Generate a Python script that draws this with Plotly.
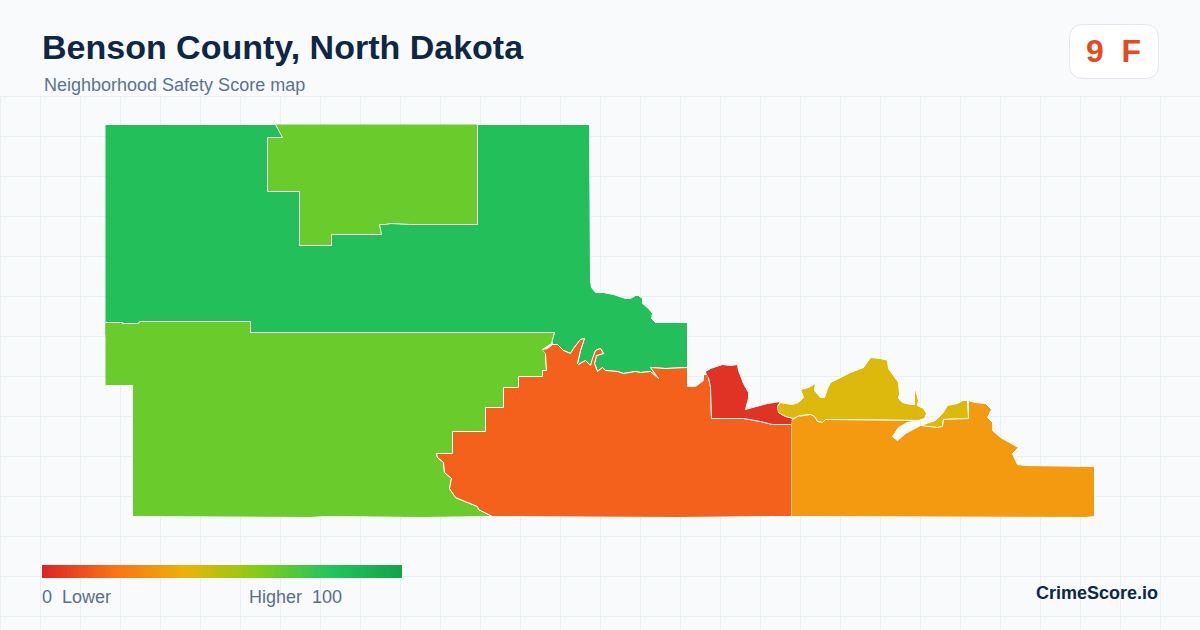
import plotly.graph_objects as go

# picture is laid out in pixels, axes run pixel-centre to pixel-centre so 1px lines stay crisp
WIDTH = 1200
HEIGHT = 630

BG = "#f8fafc"
GRID = "#e8f0f3"
FONT = "Liberation Sans"

north_x = [105, 589, 590, 591, 595, 603, 613, 625, 630, 635, 638, 642, 642, 648, 652, 651, 655, 687, 687,
           665, 650, 658, 650, 640, 635, 628, 623, 617, 605, 602, 597, 594, 596, 603, 600, 595, 592, 590, 585,
           578, 577, 580, 584, 580, 573, 570, 563, 557, 552, 550, 105]
north_y = [124, 124, 280, 287, 292, 292, 294, 298, 298, 295, 295, 298, 303, 308, 313, 318, 322, 322, 367,
           368, 367, 378, 371, 372, 371, 372, 373, 371, 370, 367, 371, 363, 355, 353, 348, 350, 358, 365, 360,
           364, 363, 350, 338, 339, 348, 353, 350, 344, 344, 335, 335]

enclave_x = [275, 282, 267, 267, 299, 299, 331, 331, 381, 379, 385, 390, 410, 477, 477]
enclave_y = [124, 137, 137, 191, 191, 245, 245, 234, 234, 224, 224, 223, 224, 224, 124]

west_x = [105, 122, 122, 138, 139, 250, 250, 554, 551, 542, 545, 546, 542, 542, 518, 518, 503, 503, 485,
          485, 452, 452, 436, 437, 443, 444, 451, 449, 455, 467, 477, 478, 492, 421, 325, 310, 132, 132, 105]
west_y = [322, 322, 323, 323, 321, 321, 332, 332, 343, 349, 353, 370, 370, 376, 376, 387, 387, 407, 407,
          431, 431, 453, 453, 457, 462, 472, 478, 488, 497, 502, 506, 509, 516, 517, 516, 517, 516, 385, 385]

central_x = [542, 547, 552, 557, 563, 570, 573, 580, 584, 580, 577, 578, 585, 590, 592, 595, 600, 603, 596, 594,
             597, 602, 605, 617, 623, 628, 635, 640, 650, 658, 650, 665, 687, 687, 695, 703, 703, 707, 708, 710, 711,
             743, 760, 772, 791, 791, 775, 675, 515, 492, 478, 477, 467, 455, 449, 451, 444, 443, 437, 436, 452, 452,
             485, 485, 503, 503, 518, 518, 542, 542, 546, 545]
central_y = [349, 348, 344, 344, 350, 353, 348, 339, 338, 350, 363, 364, 360, 365, 358, 350, 348, 353, 355, 363,
             371, 367, 370, 371, 373, 372, 371, 372, 371, 378, 367, 368, 367, 386, 386, 380, 374, 374, 377, 387, 418,
             418, 421, 424, 424, 516, 516, 517, 516, 516, 509, 506, 502, 497, 488, 478, 472, 462, 457, 453, 453, 431,
             431, 407, 407, 387, 387, 376, 376, 370, 370, 353]

tract_red_x = [705, 710, 722, 730, 737, 738, 743, 748, 748, 745, 752, 767, 780, 777, 778, 785, 793, 791, 772, 760,
               743, 711, 710, 708]
tract_red_y = [371, 368, 364, 365, 364, 370, 383, 392, 398, 409, 407, 403, 401, 406, 412, 416, 418, 424, 424, 421,
               418, 418, 387, 377]

lake_x = [777, 780, 785, 792, 798, 803, 800, 808, 815, 814, 820, 824, 827, 830, 850, 863, 870, 880, 892, 887, 888,
          898, 899, 898, 902, 910, 914, 914, 914, 916, 918, 917, 923, 926, 924, 918, 825, 822, 817, 814, 810, 800,
          793, 785, 778]
lake_y = [406, 402, 403, 404, 402, 397, 389, 387, 383, 390, 397, 397, 388, 382, 372, 367, 357, 358, 361, 360, 368,
          382, 393, 398, 402, 404, 404, 397, 385, 393, 400, 405, 408, 413, 418, 420, 419, 422, 421, 416, 414, 415,
          418, 416, 412]

lake2_x = [920, 935, 942, 947, 957, 962, 967, 968, 943, 942, 937]
lake2_y = [425, 420, 413, 405, 403, 400, 400, 418, 419, 426, 427]

east_x = [791, 797, 810, 814, 817, 822, 825, 918, 907, 898, 892, 897, 905, 917, 920, 937, 942, 943, 968, 968, 975,
          985, 991, 987, 992, 992, 1000, 1018, 1012, 1017, 1025, 1094, 1094, 1085, 791]
east_y = [420, 416, 414, 416, 421, 422, 419, 420, 422, 427, 436, 440, 433, 427, 425, 427, 426, 419, 418, 400, 402,
          403, 409, 417, 422, 430, 437, 447, 453, 464, 465, 466, 516, 517, 516]

areas = [
    (north_x, north_y, "#22bf5b"),
    (enclave_x, enclave_y, "#6acb2d"),
    (west_x, west_y, "#6acb2d"),
    (central_x, central_y, "#f4611c"),
    (tract_red_x, tract_red_y, "#e03326"),
    (lake_x, lake_y, "#dcb90c"),
    (lake2_x, lake2_y, "#dcb90c"),
    (east_x, east_y, "#f39a10"),
]

# legend gradient, score 0 to 100
legend_scores = list(range(0, 101))
legend_stops = [
    [0.0, "#dc2626"],
    [0.2, "#f97316"],
    [0.4, "#eab308"],
    [0.6, "#84cc16"],
    [0.8, "#22c55e"],
    [1.0, "#16a34a"],
]

fig = go.Figure()

# background grid, only below the header
grid_path = ""
for gx in range(0, WIDTH + 1, 40):
    grid_path += "M %d,96 L %d,%d " % (gx, gx, HEIGHT)
for gy in range(96, HEIGHT, 40):
    grid_path += "M 0,%d L %d,%d " % (gy, WIDTH, gy)
fig.add_shape(type="path", path=grid_path, line=dict(color=GRID, width=1), layer="below")

for xs, ys, color in areas:
    fig.add_trace(go.Scatter(x=xs, y=ys, mode="lines", fill="toself", fillcolor=color,
                             line=dict(color="white", width=1), hoverinfo="skip", showlegend=False))

# legend bar, x0/dx put the scores onto the 42-402 px strip
bar_dx = 360 / len(legend_scores)
fig.add_trace(go.Heatmap(z=[legend_scores], x0=41.5 + bar_dx / 2, dx=bar_dx, y0=571, dy=13,
                         colorscale=legend_stops, zmin=0, zmax=100, showscale=False, hoverinfo="skip"))

fig.add_shape(type="path", path="M 1083,24 L 1144,24 Q 1158,24 1158,38 L 1158,64 Q 1158,78 1144,78 "
                                "L 1083,78 Q 1069,78 1069,64 L 1069,38 Q 1069,24 1083,24 Z",
              fillcolor="#ffffff", line=dict(color="#e2e8f0", width=1))

texts = [
    (41, 46, "Benson County, North Dakota", 34, "#0f2744", True, "left", -2),
    (43, 84, "Neighborhood Safety Score map", 18, "#5b7390", False, "left", -2),
    (1112.5, 50, "9  F", 32, "#e64a22", True, "center", 0),
    (41, 596, "0  Lower", 18, "#5b6f8a", False, "left", -2),
    (248, 596, "Higher  100", 18, "#5b6f8a", False, "left", -2),
    (1157, 592, "CrimeScore.io", 18, "#0f2744", True, "right", 2),
]
for tx, ty, label, size, color, bold, anchor, nudge in texts:
    fig.add_annotation(x=tx, y=ty, text="<b>%s</b>" % label if bold else label, showarrow=False,
                       xanchor=anchor, yanchor="middle", xshift=nudge,
                       font=dict(family=FONT, size=size, color=color))

fig.update_layout(
    width=WIDTH, height=HEIGHT,
    margin=dict(l=0, r=0, t=0, b=0),
    paper_bgcolor=BG, plot_bgcolor=BG,
    showlegend=False,
    xaxis=dict(range=[-0.5, WIDTH - 0.5], visible=False, fixedrange=True),
    yaxis=dict(range=[HEIGHT - 0.5, -0.5], visible=False, fixedrange=True),
)

fig.write_html("out.html", config={"displayModeBar": False},
               post_script="document.body.style.margin='0';")
